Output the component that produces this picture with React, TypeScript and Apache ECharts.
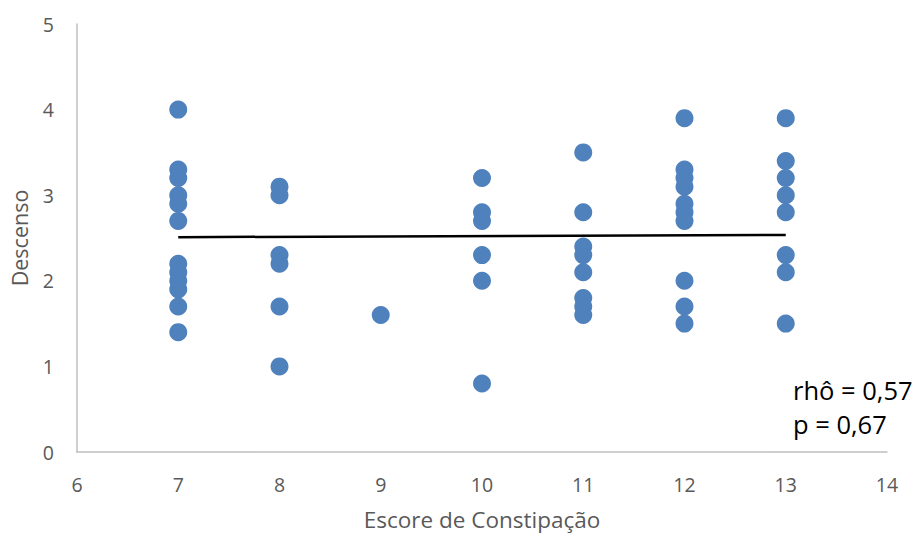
import React, { useEffect, useRef } from "react";
import * as echarts from "echarts";

const xTicks = [6, 7, 8, 9, 10, 11, 12, 13, 14];
const yTicks = [0, 1, 2, 3, 4, 5];

const scoreGroups = [7, 8, 9, 10, 11, 12, 13];
const descensoValues: number[][] = [
  [4.0, 3.3, 3.2, 3.0, 2.9, 2.7, 2.2, 2.1, 2.0, 1.9, 1.7, 1.4],
  [3.1, 3.0, 2.3, 2.2, 1.7, 1.0],
  [1.6],
  [3.2, 2.8, 2.7, 2.3, 2.0, 0.8],
  [3.5, 2.8, 2.4, 2.3, 2.1, 1.8, 1.7, 1.6],
  [3.9, 3.3, 3.2, 3.1, 2.9, 2.8, 2.7, 2.0, 1.7, 1.5],
  [3.9, 3.4, 3.2, 3.0, 2.8, 2.3, 2.1, 1.5],
];

const trendX = [7, 13];
const trendY = [2.51, 2.535];

const statsLines = ["rhô = 0,57", "p = 0,67"];

const xAxisTitle = "Escore de Constipação";
const yAxisTitle = "Descenso";

export default function App() {
  const ref = useRef<HTMLDivElement>(null);
  useEffect(() => {
    if (!ref.current) return;
    const chart = echarts.init(ref.current, null, { renderer: "svg" });
    const points: number[][] = [];
    scoreGroups.forEach((x, i) => {
      descensoValues[i].forEach((y) => points.push([x, y]));
    });
    const font = "'Open Sans', sans-serif";
    chart.setOption({
      animation: false,
      backgroundColor: "#ffffff",
      grid: { left: 77, right: 29, top: 24, bottom: 83 },
      xAxis: {
        type: "value",
        min: xTicks[0],
        max: xTicks[xTicks.length - 1],
        interval: 1,
        name: xAxisTitle,
        nameLocation: "middle",
        nameGap: 56,
        nameTextStyle: { color: "#595959", fontSize: 22.5, fontFamily: font },
        axisLine: { show: true, lineStyle: { color: "#bfbfbf", width: 1.5 } },
        axisTick: { show: false },
        splitLine: { show: false },
        axisLabel: { color: "#595959", fontSize: 19.5, fontFamily: font, margin: 22 },
      },
      yAxis: {
        type: "value",
        min: yTicks[0],
        max: yTicks[yTicks.length - 1],
        interval: 1,
        name: yAxisTitle,
        nameLocation: "middle",
        nameGap: 47,
        nameRotate: 90,
        nameTextStyle: { color: "#595959", fontSize: 21.5, fontFamily: font },
        axisLine: { show: true, lineStyle: { color: "#bfbfbf", width: 1.5 } },
        axisTick: { show: false },
        splitLine: { show: false },
        axisLabel: { color: "#595959", fontSize: 19.5, fontFamily: font, margin: 23 },
      },
      series: [
        {
          type: "scatter",
          data: points,
          symbol: "circle",
          symbolSize: 18,
          itemStyle: { color: "#4f81bd", opacity: 1 },
          z: 2,
        },
        {
          type: "line",
          data: trendX.map((x, i) => [x, trendY[i]]),
          symbol: "none",
          lineStyle: { color: "#000000", width: 2.5 },
          z: 3,
        },
      ],
      graphic: statsLines.map((t, i) => ({
        type: "text",
        x: 793,
        y: 390 + i * 34,
        style: {
          text: t,
          fontSize: 25.5,
          fill: "#000000",
          fontFamily: font,
          verticalAlign: "middle",
        },
      })),
    });
    return () => chart.dispose();
  }, []);
  return (
    <div
      ref={ref}
      style={{ position: "fixed", left: 0, top: 0, width: 916, height: 536 }}
    />
  );
}
